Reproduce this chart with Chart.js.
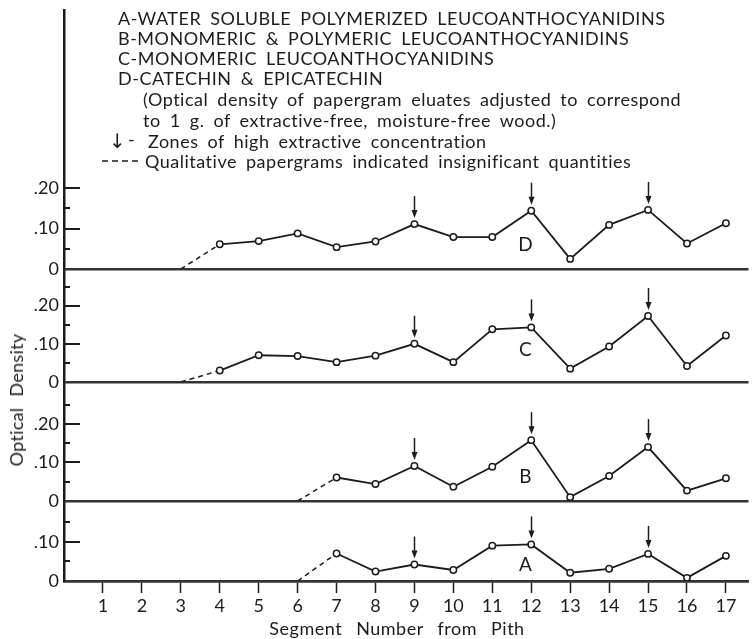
<!DOCTYPE html>
<html>
<head>
<meta charset="utf-8">
<script src="https://cdn.jsdelivr.net/npm/chart.js@4.4.1/dist/chart.umd.min.js"></script>
<style>
  body { margin: 0; background: #fff; }
  #wrap { position: relative; width: 754px; height: 639px; font-family: Lato, sans-serif; color: #1c1c1c; }
  #wrap canvas { position: absolute; left: 0; top: 0; }
  .note { position: absolute; font-size: 18px; line-height: 20px; white-space: nowrap; word-spacing: 4px; letter-spacing: 0.5px; }
  .ytitle { position: absolute; left: 16px; top: 400px; font-size: 18px; white-space: nowrap; word-spacing: 6px; letter-spacing: 0.3px;
            transform: translate(-50%, -50%) rotate(-90deg); }
  .xtitle { position: absolute; left: 397px; top: 628px; font-size: 18px; white-space: nowrap; word-spacing: 9px; letter-spacing: 0.5px;
            transform: translate(-50%, -50%); }
</style>
</head>
<body>
<div id="wrap">
  <canvas id="chart"></canvas>
  <div class="note" style="left:118px; top:8px">A-WATER SOLUBLE POLYMERIZED LEUCOANTHOCYANIDINS</div>
  <div class="note" style="left:118px; top:28px">B-MONOMERIC &amp; POLYMERIC LEUCOANTHOCYANIDINS</div>
  <div class="note" style="left:118px; top:48px">C-MONOMERIC LEUCOANTHOCYANIDINS</div>
  <div class="note" style="left:118px; top:68px">D-CATECHIN &amp; EPICATECHIN</div>
  <div class="note" style="left:143px; top:89px">(Optical density of papergram eluates adjusted to correspond</div>
  <div class="note" style="left:143px; top:110px">to 1 g. of extractive-free, moisture-free wood.)</div>
  <div class="note" style="left:109px; top:130px; font-size:20px"><span style="font-family:'DejaVu Sans'">&#8595;</span></div>
  <div class="note" style="left:128px; top:129px">-</div>
  <div class="note" style="left:148px; top:131px">Zones of high extractive concentration</div>
  <svg style="position:absolute; left:102px; top:156px" width="36" height="10">
    <line x1="0" y1="5" x2="36" y2="5" stroke="#1c1c1c" stroke-width="1.5" stroke-dasharray="6 4"/>
  </svg>
  <div class="note" style="left:145px; top:151px">Qualitative papergrams indicated insignificant quantities</div>
  <div class="ytitle">Optical Density</div>
  <div class="xtitle">Segment Number from Pith</div>
</div>
<script>
const segments = [1, 2, 3, 4, 5, 6, 7, 8, 9, 10, 11, 12, 13, 14, 15, 16, 17];

// optical density per segment, null where nothing was measured
const densityA = [null, null, null, null, null, null, 0.070, 0.024, 0.042, 0.028, 0.090, 0.093, 0.021, 0.031, 0.069, 0.008, 0.064];
const densityB = [null, null, null, null, null, null, 0.061, 0.044, 0.091, 0.037, 0.089, 0.158, 0.010, 0.065, 0.140, 0.027, 0.059];
const densityC = [null, null, null, 0.030, 0.070, 0.068, 0.052, 0.069, 0.100, 0.052, 0.138, 0.143, 0.035, 0.093, 0.173, 0.042, 0.122];
const densityD = [null, null, null, 0.061, 0.069, 0.088, 0.054, 0.068, 0.111, 0.079, 0.079, 0.144, 0.025, 0.109, 0.146, 0.063, 0.113];

// segments where the papergrams only showed traces
const traceFromA = 6;
const traceFromB = 6;
const traceFromC = 3;
const traceFromD = 3;

const zoneSegments = [9, 12, 15];

const majorTicks = [0, 0.1, 0.2];
const majorTickLabels = ['0', '.10', '.20'];
const yTickValues = [0, 0.05, 0.1, 0.15, 0.2, 0.25];

const ink = '#1c1c1c';
const font = { family: 'Lato', size: 18 };

// bottom panel first: the last stacked left axis ends up on top
const panels = [
  { id: 'yA', letter: 'A', values: densityA, from: traceFromA, max: 0.2036, weight: 80, tickTop: 0.15, letterY: 0.041 },
  { id: 'yB', letter: 'B', values: densityB, from: traceFromB, max: 0.309, weight: 119, tickTop: 0.25, letterY: 0.063 },
  { id: 'yC', letter: 'C', values: densityC, from: traceFromC, max: 0.296, weight: 113, tickTop: 0.25, letterY: 0.084 },
  { id: 'yD', letter: 'D', values: densityD, from: traceFromD, max: 0.64, weight: 259, tickTop: 0.20, letterY: 0.059 },
];

const datasets = [];
const scales = {
  x: {
    type: 'linear',
    position: 'bottom',
    min: 0,
    max: 17.58,
    afterBuildTicks: (axis) => { axis.ticks = segments.map((v) => ({ value: v })); },
    afterFit: (axis) => { axis.height = 58; axis.paddingLeft = 0; axis.paddingRight = 0; },
    grid: { drawOnChartArea: false, tickLength: 12, tickWidth: 1.5, tickColor: ink },
    border: { color: '#333', width: 2.5 },
    ticks: { font, color: ink, padding: 2, maxRotation: 0, autoSkip: false, callback: (v) => String(v) },
  },
};

panels.forEach((p) => {
  const points = segments
    .map((s, i) => ({ x: s, y: p.values[i] }))
    .filter((pt) => pt.y !== null);

  datasets.push({
    label: p.letter,
    data: points,
    yAxisID: p.id,
    borderColor: ink,
    borderWidth: 1.8,
    pointRadius: 3.2,
    pointBorderWidth: 1.5,
    pointBackgroundColor: '#fff',
    pointBorderColor: ink,
  });

  // dashed lead-in from the trace segment to the first measured value
  datasets.push({
    label: p.letter + ' traces',
    data: [{ x: p.from, y: 0 }, points[0]],
    yAxisID: p.id,
    borderColor: ink,
    borderWidth: 1.5,
    borderDash: [5, 4],
    pointRadius: 0,
  });

  scales[p.id] = {
    type: 'linear',
    position: 'left',
    stack: 'panels',
    stackWeight: p.weight,
    min: 0,
    max: p.max,
    afterBuildTicks: (axis) => {
      axis.ticks = yTickValues.filter((v) => v <= p.tickTop + 1e-9).map((v) => ({ value: v }));
    },
    afterFit: (axis) => { axis.width = 64; axis.paddingTop = 0; axis.paddingBottom = 0; },
    grid: {
      drawTicks: false,
      lineWidth: 2.5,
      color: (ctx) => (ctx.tick && ctx.tick.value === 0 ? '#333' : 'rgba(0,0,0,0)'),
    },
    border: { color: ink, width: 2.5 },
    ticks: {
      font,
      color: ink,
      padding: 5,
      autoSkip: false,
      callback: (v) => {
        const i = majorTicks.indexOf(v);
        return i >= 0 ? majorTickLabels[i] : '';
      },
    },
  };
});

// inward tick marks, zone arrows and the panel letters
const panelMarks = {
  id: 'panelMarks',
  beforeDatasetsDraw(chart) {
    const { ctx, chartArea } = chart;
    ctx.save();
    ctx.strokeStyle = ink;
    ctx.lineWidth = 2;
    panels.forEach((p) => {
      const scale = chart.scales[p.id];
      scale.ticks.forEach((t) => {
        if (t.value === 0) return;
        const y = Math.round(scale.getPixelForValue(t.value));
        const len = majorTicks.includes(t.value) ? 16 : 6;
        ctx.beginPath();
        ctx.moveTo(chartArea.left, y);
        ctx.lineTo(chartArea.left + len, y);
        ctx.stroke();
      });
    });
    ctx.restore();
  },
  afterDatasetsDraw(chart) {
    const { ctx } = chart;
    const xs = chart.scales.x;
    ctx.save();
    ctx.strokeStyle = ink;
    ctx.fillStyle = ink;
    ctx.lineWidth = 1.5;
    panels.forEach((p) => {
      const ys = chart.scales[p.id];
      zoneSegments.forEach((s) => {
        const v = p.values[segments.indexOf(s)];
        const x = Math.round(xs.getPixelForValue(s)) + 0.5;
        const tip = ys.getPixelForValue(v) - 6;
        ctx.beginPath();
        ctx.moveTo(x, tip - 22);
        ctx.lineTo(x, tip - 6);
        ctx.stroke();
        ctx.beginPath();
        ctx.moveTo(x, tip);
        ctx.lineTo(x - 3, tip - 8);
        ctx.lineTo(x + 3, tip - 8);
        ctx.closePath();
        ctx.fill();
      });
      ctx.font = '19px Lato';
      ctx.textAlign = 'center';
      ctx.textBaseline = 'middle';
      ctx.fillText(p.letter, xs.getPixelForValue(11.85), ys.getPixelForValue(p.letterY));
    });
    ctx.restore();
  },
};

new Chart(document.getElementById('chart'), {
  type: 'line',
  data: { datasets },
  options: {
    responsive: true,
    maintainAspectRatio: false,
    animation: false,
    layout: { padding: { top: 10, left: 0, right: 0, bottom: 0 } },
    plugins: { legend: { display: false }, tooltip: { enabled: false } },
    elements: { line: { tension: 0 } },
    scales,
  },
  plugins: [panelMarks],
});
</script>
</body>
</html>
